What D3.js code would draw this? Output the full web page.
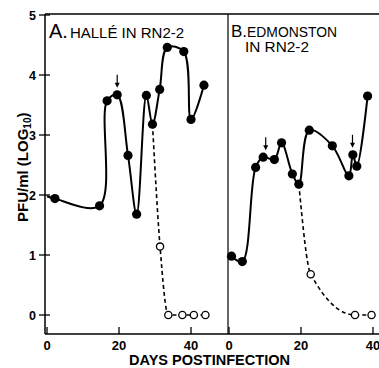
<!DOCTYPE html>
<html>
<head>
<meta charset="utf-8">
<script src="https://cdn.jsdelivr.net/npm/d3@7"></script>
<style>
  body { margin: 0; background: #fff; }
  svg { display: block; font-family: "Liberation Sans", Arial, sans-serif; }
</style>
</head>
<body>
<script>
// Panel A: Hallé in RN2-2 (days, log10 PFU/ml)
var aLead = [[0, 1.98]];
var aSolid = [[2.2, 1.94], [14.6, 1.82], [16.7, 3.57], [19.5, 3.67], [22.5, 2.66], [24.9, 1.68],
              [27.6, 3.66], [29.3, 3.18], [31.3, 3.76], [33.4, 4.46], [38.0, 4.39], [40.0, 3.26], [43.6, 3.83]];
var aOpen = [[31.4, 1.14], [33.7, 0], [37.6, 0], [40.8, 0], [44.0, 0]];
var aDashFrom = 7;  // index in aSolid where the dashed curve leaves
var aArrows = [19.5];

// Panel B: Edmonston in RN2-2
var bSolid = [[0.7, 0.98], [3.7, 0.89], [7.4, 2.46], [9.5, 2.63], [12.6, 2.59], [14.6, 2.87], [17.6, 2.35],
              [19.4, 2.18], [22.3, 3.08], [28.7, 2.82], [33.3, 2.32], [34.4, 2.67], [35.5, 2.48], [38.5, 3.65]];
var bOpen = [[22.7, 0.68], [35.0, 0], [39.6, 0]];
var bDashFrom = 7;
var bArrows = [10.2, 34.3];

var xTicks = [0, 20, 40];
var yTicks = [0, 1, 2, 3, 4, 5];

var W = 379, H = 368;
var svg = d3.select("body").append("svg").attr("width", W).attr("height", H);

var y = d3.scaleLinear().domain([0, 5]).range([315, 15]);
var xA = d3.scaleLinear().domain([0, 40]).range([47, 191]);
var xB = d3.scaleLinear().domain([0, 40]).range([229, 373]);

var axisLeft = 45, divider = 228, topY = 14, bottomY = 334;

// frame
svg.append("line").attr("x1", axisLeft).attr("x2", W).attr("y1", topY).attr("y2", topY)
  .attr("stroke", "#000").attr("stroke-width", 1.5);
svg.append("line").attr("x1", axisLeft).attr("x2", W).attr("y1", bottomY).attr("y2", bottomY)
  .attr("stroke", "#000").attr("stroke-width", 1.5);
svg.append("line").attr("x1", axisLeft).attr("x2", axisLeft).attr("y1", topY).attr("y2", bottomY)
  .attr("stroke", "#000").attr("stroke-width", 1.5);
svg.append("line").attr("x1", divider).attr("x2", divider).attr("y1", topY).attr("y2", bottomY)
  .attr("stroke", "#000").attr("stroke-width", 1.2);

// y ticks
var yg = svg.append("g");
yTicks.forEach(function(t) {
  yg.append("line").attr("x1", axisLeft - 6).attr("x2", axisLeft + 5)
    .attr("y1", y(t)).attr("y2", y(t)).attr("stroke", "#000").attr("stroke-width", 1.3);
  yg.append("text").attr("x", 36).attr("y", y(t) + 4.5).attr("text-anchor", "end")
    .attr("font-size", 12.5).attr("font-weight", "bold").text(t);
});

// x ticks
[xA, xB].forEach(function(xs) {
  xTicks.forEach(function(t) {
    svg.append("line").attr("x1", xs(t)).attr("x2", xs(t)).attr("y1", bottomY - 7).attr("y2", bottomY)
      .attr("stroke", "#000").attr("stroke-width", 1.3);
    svg.append("text").attr("x", xs(t)).attr("y", 350).attr("text-anchor", "middle")
      .attr("font-size", 13).attr("font-weight", "bold").text(t);
  });
});

svg.append("text").attr("x", 129).attr("y", 365).attr("font-size", 14).attr("font-weight", "bold")
  .attr("textLength", 161).attr("lengthAdjust", "spacingAndGlyphs").text("DAYS POSTINFECTION");

var yl = svg.append("text").attr("transform", "translate(28,222) rotate(-90)")
  .attr("font-size", 15).attr("font-weight", "bold");
yl.append("tspan").text("PFU/ml (LOG");
yl.append("tspan").attr("font-size", 10).attr("dy", 3).text("10");
yl.append("tspan").attr("dy", -3).text(")");

// titles
var tA = svg.append("text").attr("x", 49).attr("y", 38);
tA.append("tspan").attr("font-size", 20).text("A.");
tA.append("tspan").attr("font-size", 15).attr("dx", 2).text("HALLÉ IN RN2-2");
var tB = svg.append("text").attr("x", 231).attr("y", 37);
tB.append("tspan").attr("font-size", 17).text("B.");
tB.append("tspan").attr("font-size", 14).attr("textLength", 90).attr("lengthAdjust", "spacingAndGlyphs").text("EDMONSTON");
svg.append("text").attr("x", 245).attr("y", 52).attr("font-size", 14)
  .attr("textLength", 64).attr("lengthAdjust", "spacingAndGlyphs").text("IN RN2-2");

function drawPanel(xs, lead, solid, open, dashFrom, arrows) {
  var px = function(d) { return xs(d[0]); }, py = function(d) { return y(d[1]); };
  var smooth = d3.line().x(px).y(py).curve(d3.curveCatmullRom.alpha(0.5));
  var decay = d3.line().x(px).y(py).curve(d3.curveMonotoneX);
  svg.append("path").attr("d", smooth(lead.concat(solid))).attr("fill", "none")
    .attr("stroke", "#000").attr("stroke-width", 2);
  svg.append("path").attr("d", decay([solid[dashFrom]].concat(open))).attr("fill", "none")
    .attr("stroke", "#000").attr("stroke-width", 1.6).attr("stroke-dasharray", "4,3");
  svg.selectAll(null).data(solid).enter().append("circle")
    .attr("cx", px).attr("cy", py).attr("r", 4.6).attr("fill", "#000");
  svg.selectAll(null).data(open).enter().append("circle")
    .attr("cx", px).attr("cy", py)
    .attr("r", 3.6).attr("fill", "#fff").attr("stroke", "#000").attr("stroke-width", 1.3);
  arrows.forEach(function(a) {
    // find the marker the arrow points at
    var p = solid.reduce(function(b, d) { return Math.abs(d[0] - a) < Math.abs(b[0] - a) ? d : b; });
    var tip = y(p[1]) - 7, ax = xs(a);
    svg.append("line").attr("x1", ax).attr("x2", ax).attr("y1", tip - 13).attr("y2", tip - 3)
      .attr("stroke", "#000").attr("stroke-width", 1.2);
    svg.append("path").attr("d", "M" + (ax - 2.5) + "," + (tip - 5) + "L" + ax + "," + tip + "L" + (ax + 2.5) + "," + (tip - 5) + "Z")
      .attr("fill", "#000");
  });
}

drawPanel(xA, aLead, aSolid, aOpen, aDashFrom, aArrows);
drawPanel(xB, [], bSolid, bOpen, bDashFrom, bArrows);
</script>
</body>
</html>
